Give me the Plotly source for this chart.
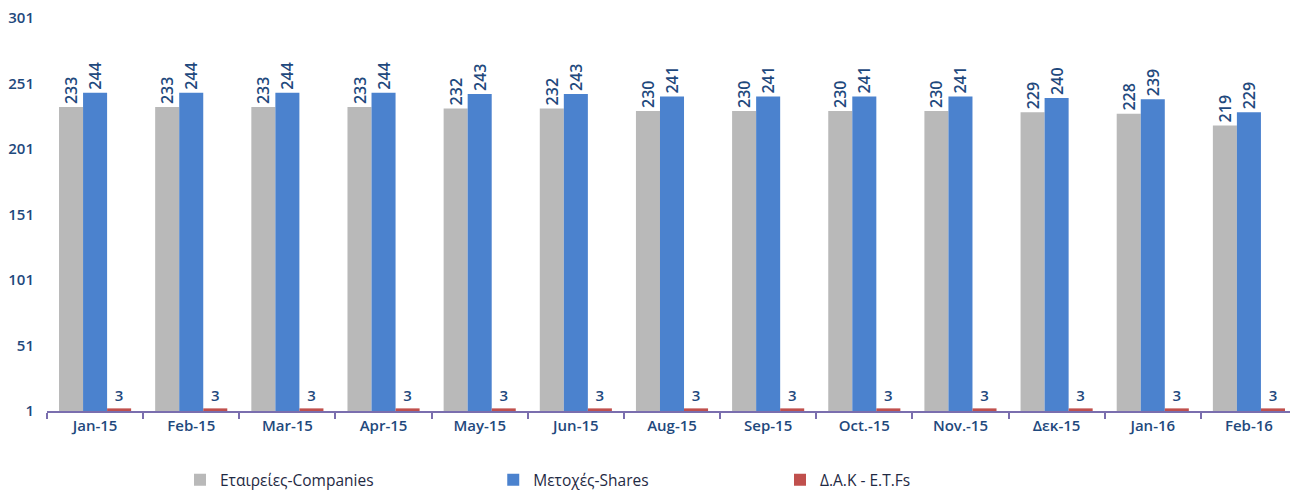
import plotly.graph_objects as go

months = ["Jan-15", "Feb-15", "Mar-15", "Apr-15", "May-15", "Jun-15", "Aug-15",
          "Sep-15", "Oct.-15", "Nov.-15", "Δεκ-15", "Jan-16", "Feb-16"]
companies = [233, 233, 233, 233, 232, 232, 230, 230, 230, 230, 229, 228, 219]
shares = [244, 244, 244, 244, 243, 243, 241, 241, 241, 241, 240, 239, 229]
etfs = [3, 3, 3, 3, 3, 3, 3, 3, 3, 3, 3, 3, 3]

navy = "#1F497D"
tick_font = dict(family="Open Sans", size=15, color=navy, weight=600)
label_font = dict(family="Open Sans", size=16, color=navy, weight=600)
legend_font = dict(family="Open Sans", size=15.5, color="#1F2A44", weight=400)

fig = go.Figure()

fig.add_trace(go.Bar(
    x=months, y=companies, name="Εταιρείες-Companies",
    marker=dict(color="#B9B9B9", line=dict(width=0)),
    text=companies, textposition="outside", textangle=-90,
    textfont=label_font, cliponaxis=False, constraintext="none",
    legend="legend",
))
fig.add_trace(go.Bar(
    x=months, y=shares, name="Μετοχές-Shares",
    marker=dict(color="#4B82CE", line=dict(width=0)),
    text=shares, textposition="outside", textangle=-90,
    textfont=label_font, cliponaxis=False, constraintext="none",
    legend="legend2",
))
fig.add_trace(go.Bar(
    x=months, y=etfs, name="Δ.Α.Κ - E.T.Fs",
    marker=dict(color="#C0504D", line=dict(width=0)),
    text=etfs, textposition="outside", textangle=0,
    textfont=tick_font, cliponaxis=False, constraintext="none",
    legend="legend3",
))

leg = dict(y=-0.176, yanchor="middle", xanchor="left", font=legend_font,
           itemwidth=30, bgcolor="rgba(0,0,0,0)")

fig.update_layout(
    width=1298, height=492,
    barmode="group", bargap=0.25, bargroupgap=0,
    plot_bgcolor="white", paper_bgcolor="white",
    margin=dict(l=39, r=9, t=10, b=89, autoexpand=False),
    font=tick_font,
    uniformtext=dict(mode=False),
    showlegend=True,
    legend=dict(leg, x=0.1064),
    legend2=dict(leg, x=0.357),
    legend3=dict(leg, x=0.5864),
    xaxis=dict(
        showline=True, linecolor="#7A6EAE", linewidth=2,
        ticks="outside", tickson="boundaries", ticklen=6, tickcolor="#7A6EAE",
        tickwidth=2, showgrid=False, tickfont=tick_font, automargin=False,
    ),
    yaxis=dict(
        range=[1, 301], tickvals=[1, 51, 101, 151, 201, 251, 301],
        showgrid=False, zeroline=False, showline=False, tickfont=tick_font,
        ticklabelstandoff=12, automargin=False, ticklabeloverflow="allow",
    ),
)

fig.write_html("out.html")
